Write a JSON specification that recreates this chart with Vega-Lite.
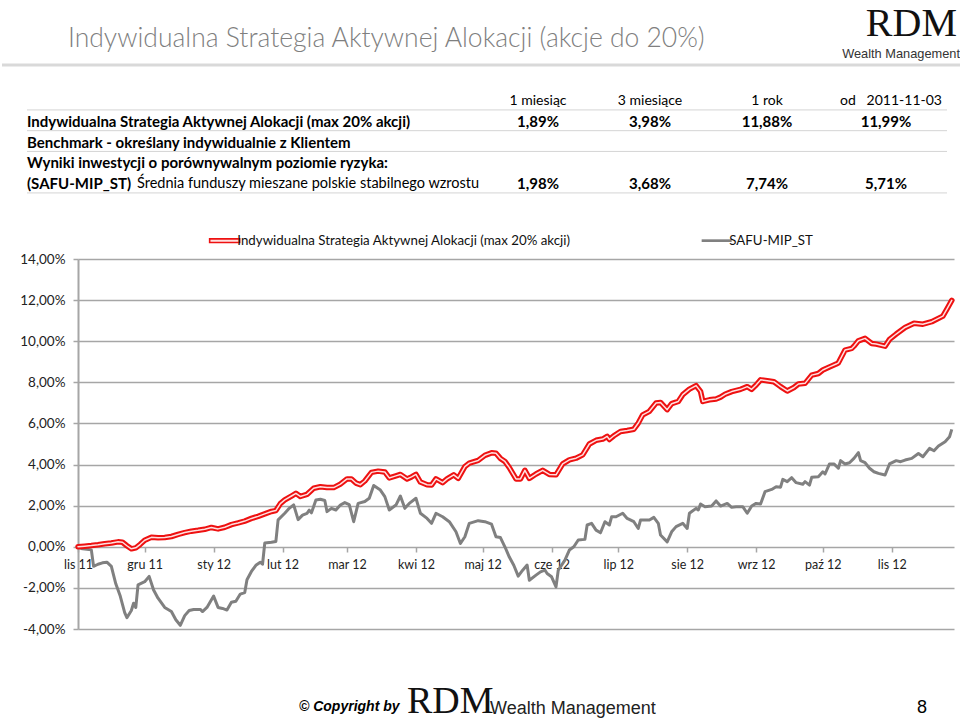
{
 "$schema": "https://vega.github.io/schema/vega-lite/v6.json",
 "padding": 0,
 "background": "white",
 "spacing": 32,
 "resolve": {"scale": {"color": "independent"}, "legend": {"color": "independent"}},
 "config": {"view": {"stroke": null}, "font": "Lato"},
 "datasets": {
  "heading": [{"row": "title", "text": "Indywidualna Strategia Aktywnej Alokacji (akcje do 20%)"}],
  "logo": [{"row": "title", "brand": "RDM"}],
  "tagline": [{"row": "sep", "text": "Wealth Management"}],
  "separator": [{"row": "sep"}],
  "cells": [
   {"row": "header", "col": 1, "text": "1 miesiąc"},
   {"row": "header", "col": 2, "text": "3 miesiące"},
   {"row": "header", "col": 3, "text": "1 rok"},
   {"row": "header", "col": 4, "text": "od\u00a0\u00a0\u00a02011-11-03"},
   {"row": "r1", "col": 1, "text": "1,89%"},
   {"row": "r1", "col": 2, "text": "3,98%"},
   {"row": "r1", "col": 3, "text": "11,88%"},
   {"row": "r1", "col": 4, "text": "11,99%"},
   {"row": "r4", "col": 1, "text": "1,98%"},
   {"row": "r4", "col": 2, "text": "3,68%"},
   {"row": "r4", "col": 3, "text": "7,74%"},
   {"row": "r4", "col": 4, "text": "5,71%"}
  ],
  "labels": [
   {"row": "r1", "text": "Indywidualna Strategia Aktywnej Alokacji (max 20% akcji)"},
   {"row": "r2", "text": "Benchmark - określany indywidualnie z Klientem"},
   {"row": "r3", "text": "Wyniki inwestycji o porównywalnym poziomie ryzyka:"},
   {"row": "r4", "text": "(SAFU-MIP_ST)"}
  ],
  "descriptions": [{"row": "r4", "text": "Średnia funduszy mieszane polskie stabilnego wzrostu"}],
  "rowLines": [{"row": "header"}, {"row": "r1"}, {"row": "r2"}, {"row": "r4"}],
  "footer": [
   {"slot": 1, "text": "© Copyright by"},
   {"slot": 2, "text": "RDM"},
   {"slot": 3, "text": "Wealth Management"},
   {"slot": 4, "text": "8"}
  ],
  "isaa": [
   {"date":"2011-11-03","value":0.00},{"date":"2011-11-06","value":0.03},{"date":"2011-11-09","value":0.06},{"date":"2011-11-12","value":0.10},
   {"date":"2011-11-15","value":0.15},{"date":"2011-11-18","value":0.18},{"date":"2011-11-21","value":0.24},{"date":"2011-11-23","value":0.22},
   {"date":"2011-11-25","value":0.05},{"date":"2011-11-27","value":-0.10},{"date":"2011-11-29","value":-0.05},{"date":"2011-12-01","value":0.12},
   {"date":"2011-12-03","value":0.32},{"date":"2011-12-06","value":0.46},{"date":"2011-12-09","value":0.44},{"date":"2011-12-12","value":0.45},
   {"date":"2011-12-15","value":0.50},{"date":"2011-12-18","value":0.60},{"date":"2011-12-21","value":0.69},{"date":"2011-12-24","value":0.76},
   {"date":"2011-12-27","value":0.80},{"date":"2011-12-30","value":0.85},{"date":"2012-01-02","value":0.94},{"date":"2012-01-05","value":0.87},
   {"date":"2012-01-08","value":0.95},{"date":"2012-01-11","value":1.08},{"date":"2012-01-14","value":1.16},{"date":"2012-01-17","value":1.25},
   {"date":"2012-01-20","value":1.38},{"date":"2012-01-23","value":1.48},{"date":"2012-01-26","value":1.60},{"date":"2012-01-29","value":1.72},
   {"date":"2012-01-31","value":1.76},{"date":"2012-02-02","value":2.10},{"date":"2012-02-04","value":2.28},{"date":"2012-02-07","value":2.47},
   {"date":"2012-02-09","value":2.60},{"date":"2012-02-11","value":2.45},{"date":"2012-02-14","value":2.55},{"date":"2012-02-17","value":2.85},
   {"date":"2012-02-20","value":2.92},{"date":"2012-02-23","value":2.88},{"date":"2012-02-26","value":2.88},{"date":"2012-02-29","value":3.05},
   {"date":"2012-03-03","value":3.30},{"date":"2012-03-05","value":3.30},{"date":"2012-03-07","value":3.10},{"date":"2012-03-09","value":3.02},
   {"date":"2012-03-11","value":3.20},{"date":"2012-03-14","value":3.62},{"date":"2012-03-17","value":3.68},{"date":"2012-03-20","value":3.64},
   {"date":"2012-03-22","value":3.35},{"date":"2012-03-25","value":3.45},{"date":"2012-03-27","value":3.52},{"date":"2012-03-30","value":3.30},
   {"date":"2012-04-01","value":3.40},{"date":"2012-04-03","value":3.52},{"date":"2012-04-05","value":3.15},{"date":"2012-04-08","value":3.02},
   {"date":"2012-04-10","value":3.00},{"date":"2012-04-12","value":3.30},{"date":"2012-04-15","value":3.12},{"date":"2012-04-17","value":3.30},
   {"date":"2012-04-20","value":3.50},{"date":"2012-04-22","value":3.33},{"date":"2012-04-25","value":3.90},{"date":"2012-04-27","value":4.07},
   {"date":"2012-05-01","value":4.20},{"date":"2012-05-04","value":4.45},{"date":"2012-05-07","value":4.57},{"date":"2012-05-09","value":4.55},
   {"date":"2012-05-11","value":4.30},{"date":"2012-05-13","value":4.15},{"date":"2012-05-15","value":3.85},{"date":"2012-05-18","value":3.30},
   {"date":"2012-05-20","value":3.30},{"date":"2012-05-22","value":3.72},{"date":"2012-05-24","value":3.33},{"date":"2012-05-27","value":3.54},
   {"date":"2012-05-30","value":3.72},{"date":"2012-06-02","value":3.52},{"date":"2012-06-05","value":3.50},{"date":"2012-06-08","value":4.03},
   {"date":"2012-06-11","value":4.23},{"date":"2012-06-14","value":4.31},{"date":"2012-06-17","value":4.47},{"date":"2012-06-20","value":5.00},
   {"date":"2012-06-23","value":5.18},{"date":"2012-06-26","value":5.24},{"date":"2012-06-28","value":5.37},{"date":"2012-06-29","value":5.22},
   {"date":"2012-07-01","value":5.40},{"date":"2012-07-04","value":5.61},{"date":"2012-07-07","value":5.66},{"date":"2012-07-10","value":5.72},
   {"date":"2012-07-12","value":6.02},{"date":"2012-07-14","value":6.42},{"date":"2012-07-17","value":6.59},{"date":"2012-07-20","value":6.99},
   {"date":"2012-07-22","value":7.02},{"date":"2012-07-25","value":6.67},{"date":"2012-07-27","value":6.96},{"date":"2012-07-30","value":7.07},
   {"date":"2012-08-01","value":7.40},{"date":"2012-08-04","value":7.67},{"date":"2012-08-07","value":7.84},{"date":"2012-08-09","value":7.56},
   {"date":"2012-08-10","value":7.07},{"date":"2012-08-13","value":7.15},{"date":"2012-08-16","value":7.19},{"date":"2012-08-18","value":7.28},
   {"date":"2012-08-20","value":7.42},{"date":"2012-08-23","value":7.55},{"date":"2012-08-27","value":7.66},{"date":"2012-08-30","value":7.79},
   {"date":"2012-09-01","value":7.66},{"date":"2012-09-03","value":7.87},{"date":"2012-09-05","value":8.12},{"date":"2012-09-08","value":8.08},
   {"date":"2012-09-11","value":8.03},{"date":"2012-09-14","value":7.79},{"date":"2012-09-17","value":7.58},{"date":"2012-09-20","value":7.75},
   {"date":"2012-09-22","value":7.92},{"date":"2012-09-25","value":7.95},{"date":"2012-09-28","value":8.35},{"date":"2012-10-01","value":8.43},
   {"date":"2012-10-03","value":8.60},{"date":"2012-10-06","value":8.75},{"date":"2012-10-09","value":8.89},{"date":"2012-10-10","value":8.95},
   {"date":"2012-10-13","value":9.57},{"date":"2012-10-16","value":9.65},{"date":"2012-10-17","value":9.76},{"date":"2012-10-19","value":10.02},
   {"date":"2012-10-22","value":10.14},{"date":"2012-10-25","value":9.89},{"date":"2012-10-27","value":9.86},{"date":"2012-10-31","value":9.76},
   {"date":"2012-11-02","value":10.09},{"date":"2012-11-05","value":10.35},{"date":"2012-11-09","value":10.67},{"date":"2012-11-13","value":10.87},
   {"date":"2012-11-17","value":10.83},{"date":"2012-11-21","value":10.95},{"date":"2012-11-26","value":11.22},{"date":"2012-11-28","value":11.60},
   {"date":"2012-11-30","value":11.99}
  ],
  "safu": [
   {"date":"2011-11-03","value":0.00},{"date":"2011-11-05","value":-0.10},{"date":"2011-11-07","value":-0.12},{"date":"2011-11-09","value":-0.15},
   {"date":"2011-11-10","value":-0.95},{"date":"2011-11-12","value":-0.85},{"date":"2011-11-14","value":-0.78},{"date":"2011-11-16","value":-0.75},
   {"date":"2011-11-18","value":-0.95},{"date":"2011-11-20","value":-1.80},{"date":"2011-11-22","value":-2.40},{"date":"2011-11-24","value":-3.20},
   {"date":"2011-11-25","value":-3.45},{"date":"2011-11-27","value":-3.10},{"date":"2011-11-28","value":-2.75},{"date":"2011-11-29","value":-2.95},
   {"date":"2011-11-30","value":-1.85},{"date":"2011-12-03","value":-1.70},{"date":"2011-12-05","value":-1.44},{"date":"2011-12-07","value":-2.10},
   {"date":"2011-12-09","value":-2.50},{"date":"2011-12-12","value":-2.95},{"date":"2011-12-15","value":-3.15},{"date":"2011-12-17","value":-3.55},
   {"date":"2011-12-19","value":-3.82},{"date":"2011-12-21","value":-3.35},{"date":"2011-12-23","value":-3.10},{"date":"2011-12-25","value":-3.05},
   {"date":"2011-12-28","value":-3.05},{"date":"2011-12-29","value":-3.15},{"date":"2011-12-31","value":-2.95},{"date":"2012-01-03","value":-2.40},
   {"date":"2012-01-05","value":-2.95},{"date":"2012-01-07","value":-3.00},{"date":"2012-01-09","value":-3.08},{"date":"2012-01-11","value":-2.70},
   {"date":"2012-01-13","value":-2.65},{"date":"2012-01-15","value":-2.30},{"date":"2012-01-17","value":-2.23},{"date":"2012-01-18","value":-1.60},
   {"date":"2012-01-20","value":-1.20},{"date":"2012-01-22","value":-0.90},{"date":"2012-01-24","value":-0.75},{"date":"2012-01-25","value":-0.85},
   {"date":"2012-01-26","value":0.18},{"date":"2012-01-29","value":0.22},{"date":"2012-01-31","value":0.26},{"date":"2012-02-01","value":1.31},
   {"date":"2012-02-04","value":1.63},{"date":"2012-02-06","value":1.87},{"date":"2012-02-08","value":2.04},{"date":"2012-02-10","value":1.32},
   {"date":"2012-02-12","value":1.54},{"date":"2012-02-14","value":1.63},{"date":"2012-02-15","value":1.78},{"date":"2012-02-16","value":1.65},
   {"date":"2012-02-18","value":2.28},{"date":"2012-02-20","value":2.31},{"date":"2012-02-22","value":2.25},{"date":"2012-02-23","value":1.71},
   {"date":"2012-02-25","value":1.87},{"date":"2012-02-27","value":1.79},{"date":"2012-02-29","value":2.03},{"date":"2012-03-02","value":2.15},
   {"date":"2012-03-04","value":2.05},{"date":"2012-03-06","value":1.22},{"date":"2012-03-08","value":2.11},{"date":"2012-03-11","value":2.20},
   {"date":"2012-03-13","value":2.36},{"date":"2012-03-15","value":2.98},{"date":"2012-03-18","value":2.76},{"date":"2012-03-20","value":2.44},
   {"date":"2012-03-22","value":1.79},{"date":"2012-03-25","value":2.03},{"date":"2012-03-27","value":2.47},{"date":"2012-03-29","value":1.87},
   {"date":"2012-03-31","value":2.11},{"date":"2012-04-03","value":2.36},{"date":"2012-04-05","value":1.63},{"date":"2012-04-08","value":1.38},
   {"date":"2012-04-10","value":1.14},{"date":"2012-04-12","value":1.63},{"date":"2012-04-15","value":1.46},{"date":"2012-04-18","value":1.22},
   {"date":"2012-04-21","value":0.73},{"date":"2012-04-23","value":0.16},{"date":"2012-04-25","value":0.49},{"date":"2012-04-27","value":1.14},
   {"date":"2012-05-01","value":1.27},{"date":"2012-05-04","value":1.22},{"date":"2012-05-07","value":1.10},{"date":"2012-05-09","value":0.49},
   {"date":"2012-05-11","value":0.45},{"date":"2012-05-13","value":0.00},{"date":"2012-05-15","value":-0.50},{"date":"2012-05-17","value":-0.90},
   {"date":"2012-05-19","value":-1.43},{"date":"2012-05-21","value":-1.14},{"date":"2012-05-23","value":-0.89},{"date":"2012-05-24","value":-1.63},
   {"date":"2012-05-27","value":-1.38},{"date":"2012-05-29","value":-1.22},{"date":"2012-05-31","value":-1.14},{"date":"2012-06-01","value":-1.30},
   {"date":"2012-06-03","value":-1.46},{"date":"2012-06-05","value":-1.95},{"date":"2012-06-06","value":-1.14},{"date":"2012-06-09","value":-0.65},
   {"date":"2012-06-11","value":-0.16},{"date":"2012-06-13","value":0.00},{"date":"2012-06-15","value":0.33},{"date":"2012-06-18","value":0.36},
   {"date":"2012-06-19","value":1.06},{"date":"2012-06-21","value":1.14},{"date":"2012-06-23","value":0.81},{"date":"2012-06-25","value":0.68},
   {"date":"2012-06-27","value":1.22},{"date":"2012-06-29","value":1.06},{"date":"2012-06-30","value":1.46},{"date":"2012-07-02","value":1.46},
   {"date":"2012-07-05","value":1.63},{"date":"2012-07-07","value":1.38},{"date":"2012-07-10","value":1.22},{"date":"2012-07-12","value":0.89},
   {"date":"2012-07-13","value":1.30},{"date":"2012-07-17","value":1.30},{"date":"2012-07-19","value":1.43},{"date":"2012-07-21","value":1.14},
   {"date":"2012-07-22","value":0.57},{"date":"2012-07-25","value":0.24},{"date":"2012-07-27","value":0.73},{"date":"2012-07-29","value":0.98},
   {"date":"2012-08-01","value":1.14},{"date":"2012-08-03","value":0.89},{"date":"2012-08-04","value":1.63},{"date":"2012-08-07","value":1.87},
   {"date":"2012-08-08","value":1.79},{"date":"2012-08-09","value":2.08},{"date":"2012-08-11","value":1.95},{"date":"2012-08-14","value":1.98},
   {"date":"2012-08-16","value":2.23},{"date":"2012-08-18","value":1.98},{"date":"2012-08-21","value":2.11},{"date":"2012-08-23","value":1.92},
   {"date":"2012-08-25","value":1.95},{"date":"2012-08-28","value":1.95},{"date":"2012-08-30","value":1.63},{"date":"2012-09-01","value":1.98},
   {"date":"2012-09-03","value":2.11},{"date":"2012-09-05","value":2.08},{"date":"2012-09-07","value":2.68},{"date":"2012-09-10","value":2.79},
   {"date":"2012-09-12","value":2.92},{"date":"2012-09-14","value":2.90},{"date":"2012-09-15","value":3.28},{"date":"2012-09-17","value":3.17},
   {"date":"2012-09-19","value":3.36},{"date":"2012-09-21","value":3.12},{"date":"2012-09-24","value":3.04},{"date":"2012-09-25","value":3.17},
   {"date":"2012-09-27","value":3.00},{"date":"2012-09-28","value":3.38},{"date":"2012-10-01","value":3.41},{"date":"2012-10-03","value":3.65},
   {"date":"2012-10-04","value":3.54},{"date":"2012-10-06","value":4.03},{"date":"2012-10-08","value":4.03},{"date":"2012-10-10","value":3.82},
   {"date":"2012-10-11","value":4.19},{"date":"2012-10-13","value":4.03},{"date":"2012-10-15","value":4.09},{"date":"2012-10-17","value":4.30},
   {"date":"2012-10-19","value":4.58},{"date":"2012-10-20","value":4.19},{"date":"2012-10-22","value":4.09},{"date":"2012-10-24","value":3.82},
   {"date":"2012-10-26","value":3.65},{"date":"2012-10-28","value":3.57},{"date":"2012-10-31","value":3.49},{"date":"2012-11-02","value":4.03},
   {"date":"2012-11-05","value":4.19},{"date":"2012-11-07","value":4.14},{"date":"2012-11-09","value":4.22},{"date":"2012-11-12","value":4.30},
   {"date":"2012-11-15","value":4.54},{"date":"2012-11-17","value":4.38},{"date":"2012-11-20","value":4.79},{"date":"2012-11-22","value":4.67},
   {"date":"2012-11-24","value":4.90},{"date":"2012-11-27","value":5.11},{"date":"2012-11-29","value":5.35},{"date":"2012-11-30","value":5.71}
  ]
 },
 "vconcat": [
  {
   "width": 876,
   "height": 202,
   "layer": [
    {
     "data": {"name": "separator"},
     "mark": {"type": "rule", "color": "#d9d9d9", "strokeWidth": 3},
     "encoding": {
      "y": {"field": "row", "type": "ordinal", "bandPosition": 0.77, "axis": null,
            "scale": {"type": "band", "domain": ["logo", "title", "sep", "gap", "header", "r1", "r2", "r3", "r4"], "paddingInner": 0, "paddingOuter": 0.367}},
      "x": {"datum": -1, "type": "quantitative", "axis": null,
            "scale": {"domain": [-1, 0, 1, 2, 3, 4, 5, 6], "range": [-76, -51, 460, 572, 689, 808, 869, 884], "zero": false, "nice": false}},
      "x2": {"datum": 6}
     }
    },
    {
     "data": {"name": "rowLines"},
     "mark": {"type": "rule", "color": "#d4d4d4", "strokeWidth": 1},
     "encoding": {
      "y": {"field": "row", "type": "ordinal", "bandPosition": 0.93, "axis": null},
      "x": {"datum": 0, "type": "quantitative", "axis": null},
      "x2": {"datum": 5}
     }
    },
    {
     "data": {"name": "heading"},
     "mark": {"type": "text", "align": "left", "baseline": "middle", "dx": 41, "fontSize": 26.5, "fontWeight": 300, "color": "#7f7f7f"},
     "encoding": {
      "y": {"field": "row", "type": "ordinal", "bandPosition": 0.5, "axis": null},
      "x": {"datum": 0, "type": "quantitative", "axis": null},
      "text": {"field": "text"}
     }
    },
    {
     "data": {"name": "logo"},
     "mark": {"type": "text", "align": "right", "baseline": "alphabetic", "dx": -5, "font": "Liberation Serif", "fontSize": 40, "color": "#111"},
     "encoding": {
      "y": {"field": "row", "type": "ordinal", "bandPosition": 0.39, "axis": null},
      "x": {"datum": 6, "type": "quantitative", "axis": null},
      "text": {"field": "brand"}
     }
    },
    {
     "data": {"name": "tagline"},
     "mark": {"type": "text", "align": "right", "baseline": "middle", "dx": -2, "font": "Liberation Sans", "fontSize": 12.8, "color": "#333"},
     "encoding": {
      "y": {"field": "row", "type": "ordinal", "bandPosition": 0.24, "axis": null},
      "x": {"datum": 6, "type": "quantitative", "axis": null},
      "text": {"field": "text"}
     }
    },
    {
     "data": {"name": "cells"},
     "transform": [{"filter": "datum.row === 'header' && datum.col < 4"}],
     "mark": {"type": "text", "align": "center", "baseline": "middle", "fontSize": 14, "color": "#000"},
     "encoding": {
      "y": {"field": "row", "type": "ordinal", "bandPosition": 0.5, "axis": null},
      "x": {"field": "col", "type": "quantitative", "axis": null},
      "text": {"field": "text"}
     }
    },
    {
     "data": {"name": "cells"},
     "transform": [{"filter": "datum.row === 'header' && datum.col === 4"}],
     "mark": {"type": "text", "align": "right", "baseline": "middle", "dx": 56, "fontSize": 14, "color": "#000"},
     "encoding": {
      "y": {"field": "row", "type": "ordinal", "bandPosition": 0.5, "axis": null},
      "x": {"field": "col", "type": "quantitative", "axis": null},
      "text": {"field": "text"}
     }
    },
    {
     "data": {"name": "cells"},
     "transform": [{"filter": "datum.row !== 'header'"}],
     "mark": {"type": "text", "align": "center", "baseline": "middle", "fontSize": 15, "fontWeight": "bold", "color": "#000"},
     "encoding": {
      "y": {"field": "row", "type": "ordinal", "bandPosition": 0.5, "axis": null},
      "x": {"field": "col", "type": "quantitative", "axis": null},
      "text": {"field": "text"}
     }
    },
    {
     "data": {"name": "labels"},
     "mark": {"type": "text", "align": "left", "baseline": "middle", "fontSize": 15, "fontWeight": "bold", "color": "#000"},
     "encoding": {
      "y": {"field": "row", "type": "ordinal", "bandPosition": 0.5, "axis": null},
      "x": {"datum": 0, "type": "quantitative", "axis": null},
      "text": {"field": "text"}
     }
    },
    {
     "data": {"name": "descriptions"},
     "mark": {"type": "text", "align": "left", "baseline": "middle", "dx": 110, "fontSize": 14.5, "color": "#000"},
     "encoding": {
      "y": {"field": "row", "type": "ordinal", "bandPosition": 0.5, "axis": null},
      "x": {"datum": 0, "type": "quantitative", "axis": null},
      "text": {"field": "text"}
     }
    }
   ]
  },
  {
   "width": 876,
   "height": 370,
   "encoding": {
    "x": {
     "field": "date", "type": "temporal",
     "scale": {"domain": [{"year": 2011, "month": 11, "date": 3, "utc": true}, {"year": 2012, "month": 12, "date": 1, "utc": true}]},
     "axis": {
      "values": [
       {"year": 2011, "month": 11, "date": 3, "utc": true}, {"year": 2011, "month": 12, "date": 3, "utc": true},
       {"year": 2012, "month": 1, "date": 3, "utc": true}, {"year": 2012, "month": 2, "date": 3, "utc": true},
       {"year": 2012, "month": 3, "date": 3, "utc": true}, {"year": 2012, "month": 4, "date": 3, "utc": true},
       {"year": 2012, "month": 5, "date": 3, "utc": true}, {"year": 2012, "month": 6, "date": 3, "utc": true},
       {"year": 2012, "month": 7, "date": 3, "utc": true}, {"year": 2012, "month": 8, "date": 3, "utc": true},
       {"year": 2012, "month": 9, "date": 3, "utc": true}, {"year": 2012, "month": 10, "date": 3, "utc": true},
       {"year": 2012, "month": 11, "date": 3, "utc": true}
      ],
      "labelExpr": "['sty','lut','mar','kwi','maj','cze','lip','sie','wrz','paź','lis','gru'][utcmonth(datum.value)] + ' ' + utcFormat(datum.value, '%y')",
      "offset": -82, "domain": false, "grid": false, "ticks": true, "tickSize": 5, "tickColor": "#a6a6a6", "tickWidth": 1.5,
      "labelFontSize": 12.5, "labelColor": "#222", "labelPadding": 6, "labelFlush": false, "labelOverlap": false, "title": null
     }
    },
    "y": {
     "field": "value", "type": "quantitative",
     "scale": {"domain": [-4, 14], "nice": false, "zero": false},
     "axis": {
      "values": [-4, -2, 0, 2, 4, 6, 8, 10, 12, 14],
      "labelExpr": "(datum.value < 0 ? '-' : '') + replace(format(abs(datum.value), '.2f'), '.', ',') + '%'",
      "grid": true, "gridColor": "#a6a6a6", "gridWidth": 1.5,
      "domainColor": "#a6a6a6", "domainWidth": 2, "tickColor": "#a6a6a6", "tickSize": 5, "tickWidth": 1.5,
      "labelFontSize": 13.5, "labelColor": "#222", "labelPadding": 8, "title": null
     }
    }
   },
   "layer": [
    {
     "data": {"name": "safu"},
     "mark": {"type": "line", "strokeWidth": 3, "strokeJoin": "round"},
     "encoding": {
      "color": {
       "datum": "SAFU-MIP_ST", "type": "nominal",
       "scale": {"domain": ["Indywidualna Strategia Aktywnej Alokacji (max 20% akcji)", "SAFU-MIP_ST"], "range": ["#ee1111", "#808080"]},
       "legend": {
        "orient": "none", "legendX": 140, "legendY": -25, "direction": "horizontal", "title": null,
        "symbolSize": 900, "labelOffset": 6, "columnPadding": 130, "padding": 0, "labelLimit": 0,
        "labelFontSize": 13.3, "labelColor": "#111", "labelFont": "Lato",
        "encode": {
         "symbols": {
          "update": {
           "fill": {"signal": "datum.value === 'SAFU-MIP_ST' ? '#808080' : '#ffe0e0'"},
           "stroke": {"signal": "datum.value === 'SAFU-MIP_ST' ? '#808080' : '#ee1111'"},
           "strokeWidth": {"signal": "datum.value === 'SAFU-MIP_ST' ? 0 : 1.6"},
           "shape": {"signal": "datum.value === 'SAFU-MIP_ST' ? 'M-1,-0.09H1V0.09H-1Z' : 'M-1,-0.12H1V0.12H-1Z'"},
           "opacity": {"value": 1}
          }
         }
        }
       }
      }
     }
    },
    {
     "data": {"name": "isaa"},
     "mark": {"type": "line", "strokeWidth": 5.5, "strokeJoin": "round", "strokeCap": "round"},
     "encoding": {"color": {"datum": "Indywidualna Strategia Aktywnej Alokacji (max 20% akcji)", "type": "nominal"}}
    },
    {
     "data": {"name": "isaa"},
     "mark": {"type": "line", "strokeWidth": 1.5, "color": "#ffe0e0", "strokeJoin": "round", "strokeCap": "round"},
     "encoding": {}
    }
   ]
  },
  {
   "width": 876,
   "height": 50,
   "data": {"name": "footer"},
   "encoding": {
    "x": {"field": "slot", "type": "quantitative", "axis": null,
          "scale": {"domain": [1, 2, 3, 4], "range": [221, 329, 412, 844], "zero": false, "nice": false}},
    "text": {"field": "text"}
   },
   "layer": [
    {"transform": [{"filter": "datum.slot === 1"}],
     "mark": {"type": "text", "align": "left", "baseline": "alphabetic", "dy": 18, "font": "Liberation Sans", "fontSize": 14, "fontWeight": "bold", "fontStyle": "italic", "color": "#000"}},
    {"transform": [{"filter": "datum.slot === 2"}],
     "mark": {"type": "text", "align": "left", "baseline": "alphabetic", "dy": 20, "font": "Liberation Serif", "fontSize": 38, "color": "#111"}},
    {"transform": [{"filter": "datum.slot === 3"}],
     "mark": {"type": "text", "align": "left", "baseline": "alphabetic", "dy": 21, "font": "Liberation Sans", "fontSize": 18, "color": "#222"}},
    {"transform": [{"filter": "datum.slot === 4"}],
     "mark": {"type": "text", "align": "center", "baseline": "alphabetic", "dy": 20, "font": "Liberation Sans", "fontSize": 18, "color": "#000"}}
   ]
  }
 ]
}
